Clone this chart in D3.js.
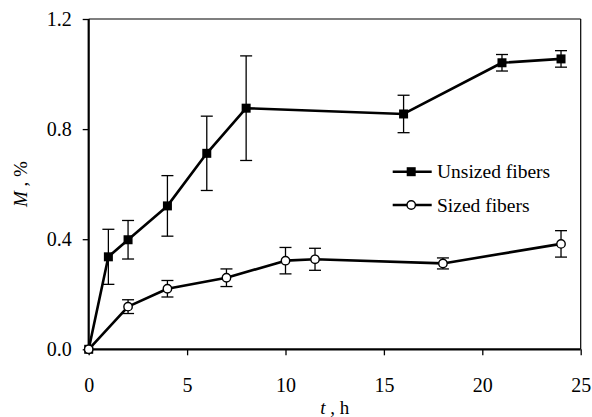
<!DOCTYPE html>
<html>
<head>
<meta charset="utf-8">
<script src="https://cdn.jsdelivr.net/npm/d3@7"></script>
<style>
  html, body { margin: 0; padding: 0; background: #fff; }
  svg { display: block; }
</style>
</head>
<body>
<svg id="chart" width="592" height="417"></svg>
<script>
// Moisture uptake M (%) over time t (h)
const unsizedHours = [0, 1, 2, 4, 6, 8, 16, 21, 24];
const unsizedM     = [0, 0.336, 0.398, 0.521, 0.712, 0.876, 0.855, 1.041, 1.055];
const unsizedErr   = [0, 0.10, 0.07, 0.11, 0.135, 0.19, 0.068, 0.03, 0.03];

const sizedHours = [0, 2, 4, 7, 10, 11.5, 18, 24];
const sizedM     = [0, 0.155, 0.22, 0.26, 0.322, 0.327, 0.312, 0.383];
const sizedErr   = [0, 0.025, 0.03, 0.032, 0.048, 0.04, 0.02, 0.048];

const xTicks = [0, 5, 10, 15, 20, 25];
const yTicks = [0, 0.4, 0.8, 1.2];
const seriesNames = ["Unsized fibers", "Sized fibers"];

// Pick the first serif face that is actually installed
function pickFont(cands) {
  const ctx = document.createElement("canvas").getContext("2d");
  const probe = "mmmmWWWiiilll 0123456789 Unsized";
  const base = ["monospace", "sans-serif"].map(b => { ctx.font = "40px " + b; return ctx.measureText(probe).width; });
  for (const c of cands) {
    const hit = ["monospace", "sans-serif"].some((b, i) => {
      ctx.font = `40px "${c}", ${b}`;
      return Math.abs(ctx.measureText(probe).width - base[i]) > 0.5;
    });
    if (hit) return `"${c}", serif`;
  }
  return "serif";
}
const FONT = pickFont(["Liberation Serif", "Times New Roman", "Tinos", "DejaVu Serif", "Noto Serif", "FreeSerif", "Nimbus Roman", "Times"]);

const svg = d3.select("#chart").style("font-family", FONT);
const plotL = 88.7, plotR = 580.7, plotT = 19, plotB = 349.3;

const x = d3.scaleLinear().domain([0, 25]).range([plotL, plotR]);
const y = d3.scaleLinear().domain([0, 1.2]).range([plotB, plotT]);

// Frame: thin top/right edges
svg.append("line").attr("x1", plotL).attr("x2", plotR).attr("y1", plotT).attr("y2", plotT)
  .attr("stroke", "#000").attr("stroke-width", 1.2);
svg.append("line").attr("x1", plotR).attr("x2", plotR).attr("y1", plotT).attr("y2", plotB)
  .attr("stroke", "#000").attr("stroke-width", 1.2);

// Axes
const xAxis = svg.append("g").attr("transform", `translate(0,${plotB})`)
  .call(d3.axisBottom(x).tickValues(xTicks).tickSize(6).tickPadding(23).tickFormat(d3.format("d")));
const yAxis = svg.append("g").attr("transform", `translate(${plotL},0)`)
  .call(d3.axisLeft(y).tickValues(yTicks).tickSize(6).tickPadding(11).tickFormat(d3.format(".1f")));

[xAxis, yAxis].forEach(g => {
  g.attr("font-family", null).attr("font-size", null);
  g.select(".domain").attr("stroke", "#000").attr("stroke-width", 2.2);
  g.selectAll(".tick line").attr("stroke", "#000").attr("stroke-width", 1.3);
  g.selectAll(".tick text").style("font-family", FONT).style("font-size", "20px").attr("fill", "#000");
});
xAxis.select(".domain").attr("d", `M${plotL},0H${plotR}`);
yAxis.select(".domain").attr("d", `M0,${plotT}V${plotB}`);

// Axis titles
const xt = svg.append("text").attr("x", (plotL + plotR) / 2).attr("y", 414)
  .attr("text-anchor", "middle").style("font-family", FONT).style("font-size", "19px");
xt.append("tspan").attr("font-style", "italic").text("t");
xt.append("tspan").text(" , h");

const yt = svg.append("text")
  .attr("transform", `translate(27,${(plotT + plotB) / 2}) rotate(-90)`)
  .attr("text-anchor", "middle").style("font-family", FONT).style("font-size", "19px");
yt.append("tspan").attr("font-style", "italic").text("M");
yt.append("tspan").text(" , %");

function drawSeries(hours, vals, errs, marker) {
  const pts = hours.map((h, i) => ({ h, v: vals[i], e: errs[i] }));
  const g = svg.append("g");
  // error bars
  const eb = g.selectAll(".eb").data(pts.filter(d => d.e > 0)).join("g");
  eb.append("line").attr("x1", d => x(d.h)).attr("x2", d => x(d.h))
    .attr("y1", d => y(d.v - d.e)).attr("y2", d => y(d.v + d.e));
  eb.append("line").attr("x1", d => x(d.h) - 6).attr("x2", d => x(d.h) + 6)
    .attr("y1", d => y(d.v + d.e)).attr("y2", d => y(d.v + d.e));
  eb.append("line").attr("x1", d => x(d.h) - 6).attr("x2", d => x(d.h) + 6)
    .attr("y1", d => y(d.v - d.e)).attr("y2", d => y(d.v - d.e));
  eb.selectAll("line").attr("stroke", "#000").attr("stroke-width", 1.3);
  // connecting line
  g.append("path").datum(pts)
    .attr("d", d3.line().x(d => x(d.h)).y(d => y(d.v)))
    .attr("fill", "none").attr("stroke", "#000").attr("stroke-width", 2.6)
    .attr("stroke-linejoin", "round");
  // markers
  if (marker === "square") {
    g.selectAll(".m").data(pts).join("rect")
      .attr("x", d => x(d.h) - 4.5).attr("y", d => y(d.v) - 4.5)
      .attr("width", 9).attr("height", 9).attr("fill", "#000");
  } else {
    g.selectAll(".m").data(pts).join("circle")
      .attr("cx", d => x(d.h)).attr("cy", d => y(d.v)).attr("r", 4.2)
      .attr("fill", "#fff").attr("stroke", "#000").attr("stroke-width", 1.4);
  }
}

drawSeries(unsizedHours, unsizedM, unsizedErr, "square");
drawSeries(sizedHours, sizedM, sizedErr, "circle");

// Legend
const legendRows = [
  { name: seriesNames[0], marker: "square", y: 171.7 },
  { name: seriesNames[1], marker: "circle", y: 205 }
];
legendRows.forEach(r => {
  const g = svg.append("g");
  g.append("line").attr("x1", 392.7).attr("x2", 431.7).attr("y1", r.y).attr("y2", r.y)
    .attr("stroke", "#000").attr("stroke-width", 2.6);
  if (r.marker === "square") {
    g.append("rect").attr("x", 411.2 - 4.5).attr("y", r.y - 4.5).attr("width", 9).attr("height", 9).attr("fill", "#000");
  } else {
    g.append("circle").attr("cx", 411.2).attr("cy", r.y).attr("r", 4.2)
      .attr("fill", "#fff").attr("stroke", "#000").attr("stroke-width", 1.4);
  }
  g.append("text").attr("x", 437).attr("y", r.y + 6.5)
    .style("font-family", FONT).style("font-size", "19.5px").text(r.name);
});
</script>
</body>
</html>
